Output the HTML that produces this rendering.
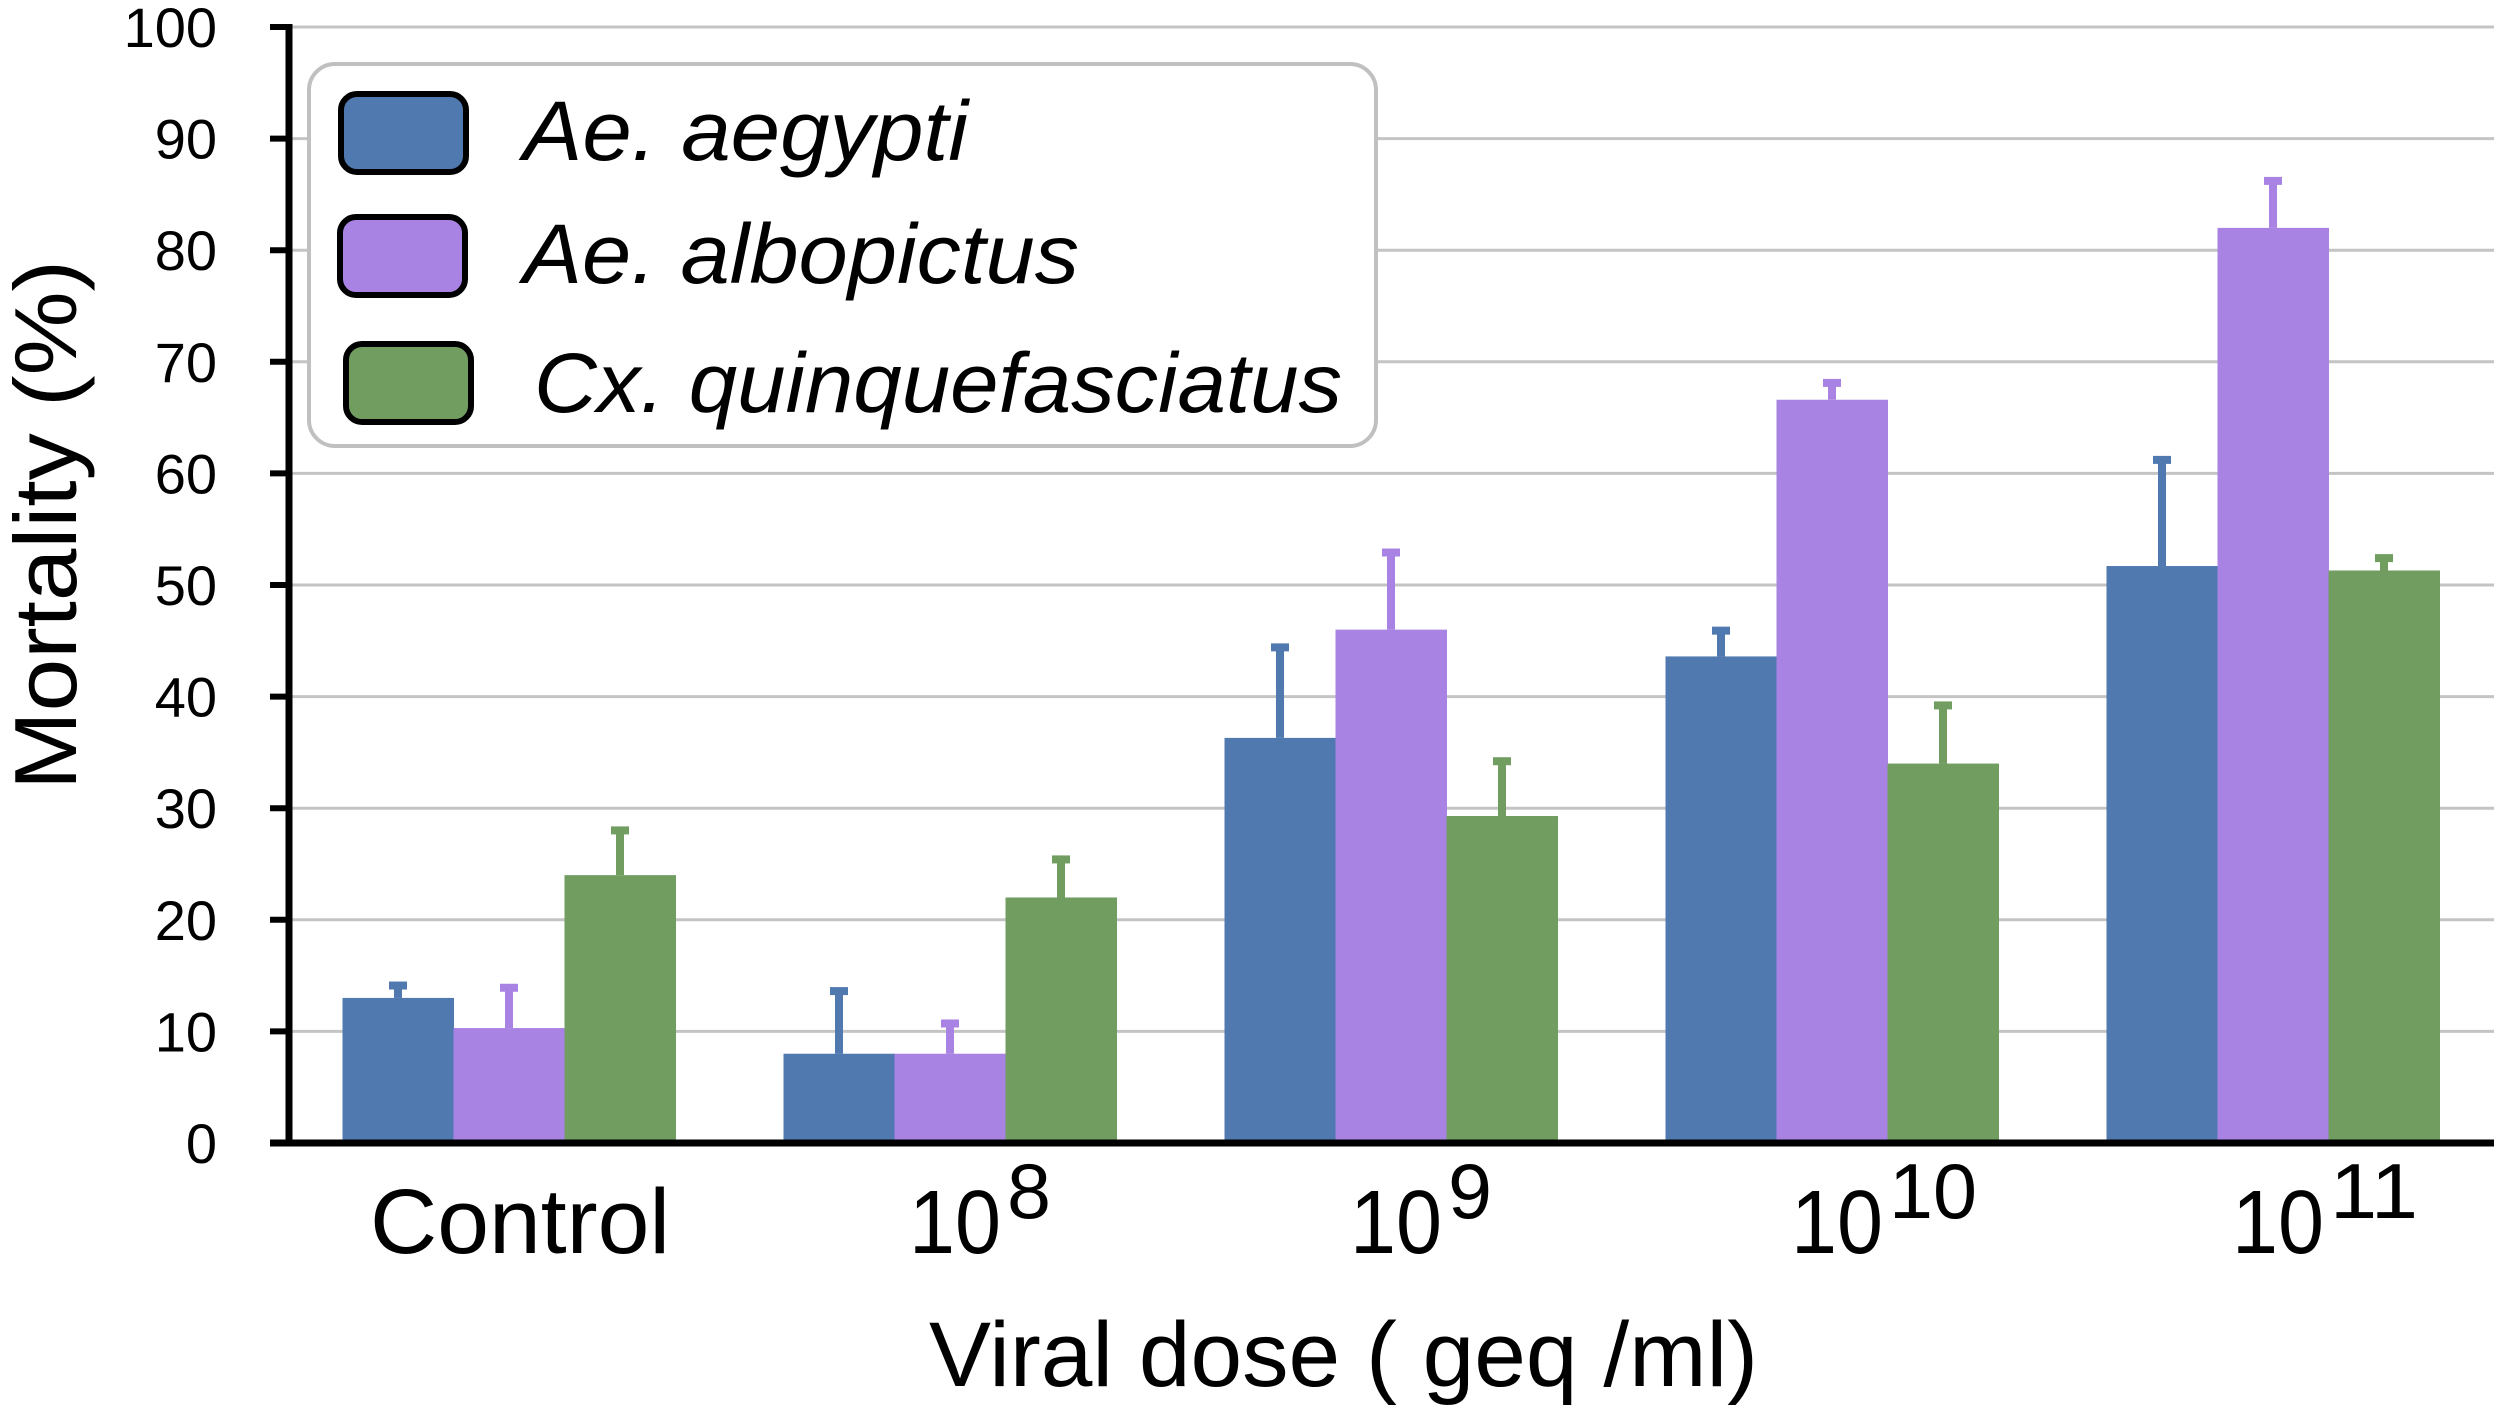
<!DOCTYPE html>
<html><head><meta charset="utf-8"><style>
html,body{margin:0;padding:0;background:#fff;}
svg{display:block;}
</style></head><body>
<svg id="chart" xmlns="http://www.w3.org/2000/svg" width="2500" height="1412" viewBox="0 0 2500 1412" font-family="Liberation Sans, Arial, sans-serif">
<g id="grid"></g>
<g id="bars"></g>
<g id="axes"></g>
<g id="legend">
  <rect x="309" y="64" width="1067" height="382" rx="26" fill="#fff" stroke="#c0c0c0" stroke-width="4"/>
  <rect x="341" y="94" width="125" height="78" rx="16" fill="#5079b0" stroke="#000" stroke-width="6"/>
  <text x="523" y="160" font-size="84" font-style="italic" textLength="445" lengthAdjust="spacingAndGlyphs">Ae. aegypti</text>
  <rect x="340" y="217" width="125" height="78" rx="16" fill="#a983e3" stroke="#000" stroke-width="6"/>
  <text x="523" y="283" font-size="84" font-style="italic" textLength="556" lengthAdjust="spacingAndGlyphs">Ae. albopictus</text>
  <rect x="346" y="344" width="125" height="78" rx="16" fill="#719d60" stroke="#000" stroke-width="6"/>
  <text x="534" y="412" font-size="84" font-style="italic" textLength="808" lengthAdjust="spacingAndGlyphs">Cx. quinquefasciatus</text>
</g>
<text transform="translate(76,525) rotate(-90)" text-anchor="middle" font-size="88" textLength="530" lengthAdjust="spacingAndGlyphs">Mortality (%)</text>
<text x="929" y="1386" font-family="Liberation Sans, sans-serif" font-size="92" textLength="829" lengthAdjust="spacingAndGlyphs">Viral dose ( geq /ml)</text>
</svg>
<script>
const categories = ['Control', '10^8', '10^9', '10^10', '10^11'];
const aegypti = [13, 8, 36.3, 43.6, 51.7];
const aegyptiErr = [1.2, 5.7, 8.2, 2.4, 9.6];
const albopictus = [10.3, 8, 46, 66.6, 82];
const albopictusErr = [3.7, 2.8, 7, 1.6, 4.3];
const culex = [24, 22, 29.3, 34, 51.3];
const culexErr = [4.1, 3.5, 5, 5.3, 1.2];
const yTicks = [0, 10, 20, 30, 40, 50, 60, 70, 80, 90, 100];

const NS = 'http://www.w3.org/2000/svg';
const X0 = 289, X1 = 2494, Y0 = 1143, Y100 = 27;
const groupStart = 509, groupStep = 441, barW = 111;
function y(v){ return Y0 - (v/100)*(Y0 - Y100); }
function gx(i){ return groupStart + i*groupStep; }
function mk(tag, attrs, parent){ const e = document.createElementNS(NS, tag); for (const k in attrs) e.setAttribute(k, attrs[k]); parent.appendChild(e); return e; }

const grid = document.getElementById('grid');
const axes = document.getElementById('axes');
const bars = document.getElementById('bars');
yTicks.forEach(t => {
  if (t > 0) {
    const g = mk('line', {x1: X0, x2: X1, y1: y(t), y2: y(t), stroke: '#c4c4c4', 'stroke-width': 3}, grid);
    
    
  }
  const tk = mk('line', {x1: 270, x2: X0, y1: y(t), y2: y(t), stroke: '#000', 'stroke-width': 6}, axes);
  
  
  const lb = mk('text', {x: 217, y: y(t) + 20, 'text-anchor': 'end', 'font-size': 56}, axes);
  lb.textContent = t;
  
  
});
const ya = mk('line', {x1: X0, x2: X0, y1: Y100 - 3, y2: Y0 + 3, stroke: '#000', 'stroke-width': 7}, axes);


const xa = mk('line', {x1: 270, x2: X1, y1: Y0, y2: Y0, stroke: '#000', 'stroke-width': 7}, axes);



const series = [
  {vals: aegypti, errs: aegyptiErr, color: '#5079b0', name: 'aegypti'},
  {vals: albopictus, errs: albopictusErr, color: '#a983e3', name: 'albopictus'},
  {vals: culex, errs: culexErr, color: '#719d60', name: 'culex'}
];
categories.forEach((c, i) => {
  series.forEach((s, j) => {
    const left = gx(i) - 1.5*barW + j*barW;
    const cx = left + barW/2;
    const r = mk('rect', {x: left, y: y(s.vals[i]), width: barW + 0.5, height: Y0 - y(s.vals[i]), fill: s.color}, bars);
    
    
    const top = y(s.vals[i] + s.errs[i]);
    const st = mk('line', {x1: cx, x2: cx, y1: y(s.vals[i]), y2: top, stroke: s.color, 'stroke-width': 8}, bars);
    
    
    const cp = mk('rect', {x: cx - 9, y: top - 3, width: 18, height: 8, fill: s.color}, bars);
    
    
  });
  const cx = gx(i);
  if (c === 'Control') {
    const t = mk('text', {x: cx + 11, y: 1253, 'text-anchor': 'middle', 'font-size': 92, textLength: 300, lengthAdjust: 'spacingAndGlyphs'}, axes);
    t.textContent = c;
    
    
  } else {
    const exp = c.split('^')[1];
    const t = mk('text', {x: cx - 41, y: 1253, 'font-size': 90, textLength: 92, lengthAdjust: 'spacingAndGlyphs'}, axes);
    t.textContent = '10';
    
    
    const sp = mk('text', {x: cx + 57, y: 1218, 'font-size': 78, textLength: exp.length*44, lengthAdjust: 'spacingAndGlyphs'}, axes);
    sp.textContent = exp;
    
    
  }
});
</script>
</body></html>
